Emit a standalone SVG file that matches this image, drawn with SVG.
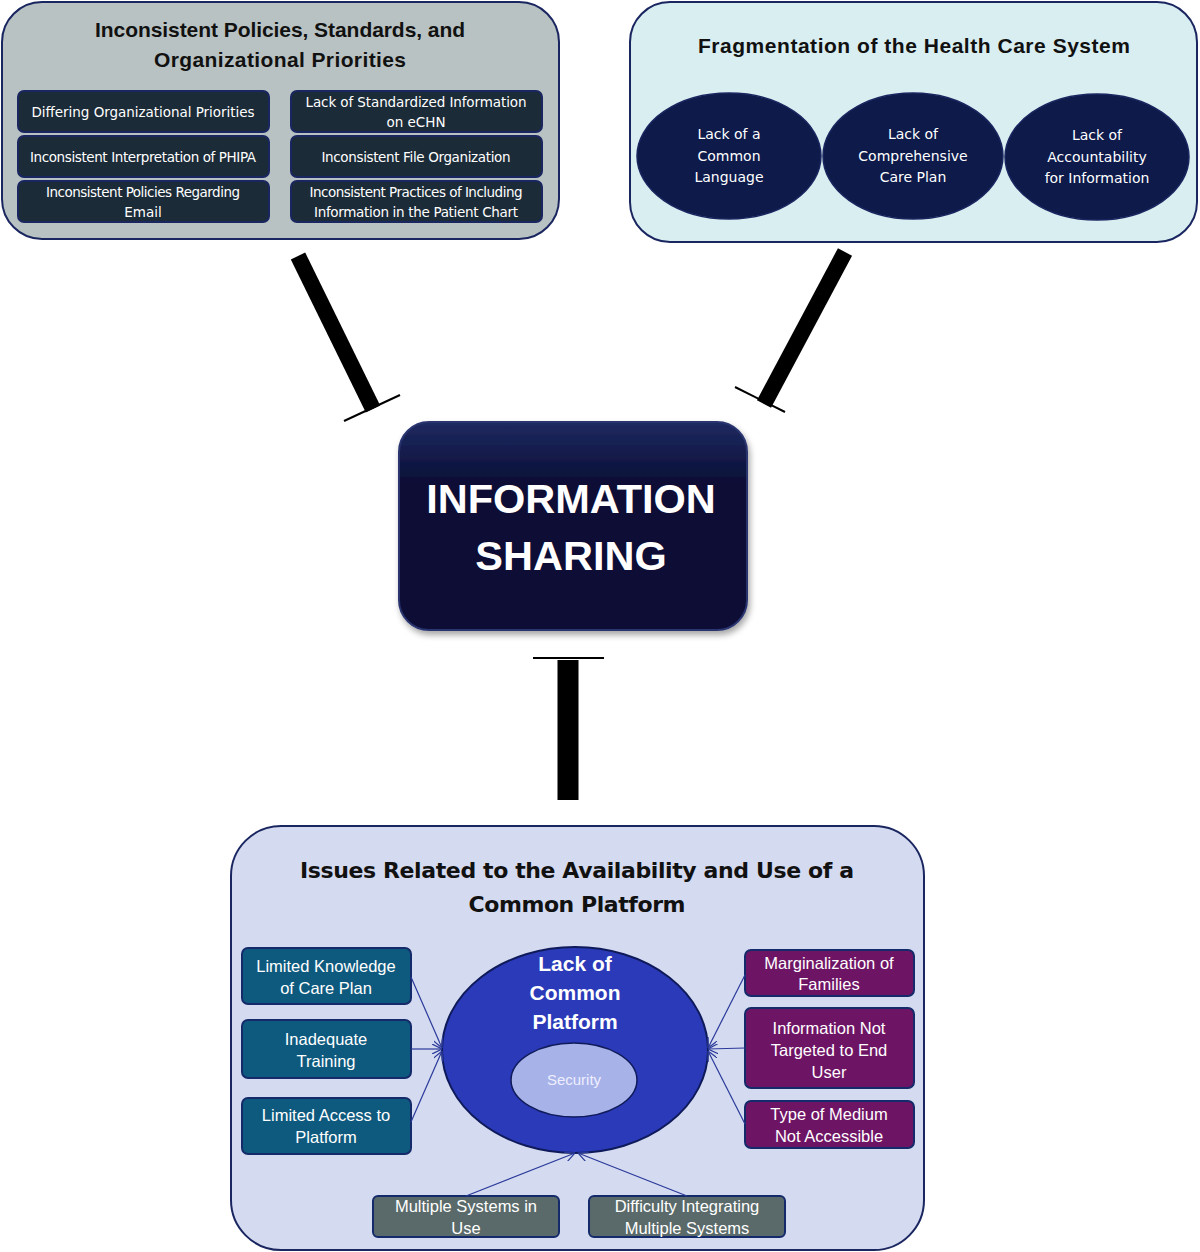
<svg xmlns="http://www.w3.org/2000/svg" width="1200" height="1252" viewBox="0 0 1200 1252">
<defs>
<style>
.t{font-family:"Liberation Sans",Arial,sans-serif;text-anchor:middle}
.d{font-family:"DejaVu Sans","Liberation Sans",sans-serif;text-anchor:middle}
.h{font-weight:bold;fill:#111;font-size:21px}
.w{fill:#fff;font-size:13.5px}
.e{fill:#fff;font-size:14px}
.w2{fill:#fff;font-size:16.5px}
.ib{fill:#1c2b38;stroke:#1a2660;stroke-width:2}
.el{fill:#0d1a4a;stroke:#1a2660;stroke-width:1.5}
.tb{fill:#0e5a7e;stroke:#152a6a;stroke-width:2}
.pb{fill:#6e1465;stroke:#152a6a;stroke-width:2}
.gb{fill:#5a6a6a;stroke:#152a6a;stroke-width:2}
.ln{stroke:#2a3a9a;stroke-width:1.2;fill:none}
.bar{stroke:#000;fill:none}
</style>
<marker id="ah" viewBox="0 0 10 10" refX="10" refY="5" markerWidth="10" markerHeight="10" orient="auto" markerUnits="userSpaceOnUse">
<path d="M0,0 L10,5 L0,10" fill="none" stroke="#2a3a9a" stroke-width="1.2"/>
</marker>
<linearGradient id="cg" x1="0" y1="0" x2="0" y2="1">
<stop offset="0" stop-color="#1e2a60"/>
<stop offset="0.3" stop-color="#0a0e35"/>
<stop offset="1" stop-color="#0a0e35"/>
</linearGradient>
<filter id="sh" x="-10%" y="-10%" width="130%" height="130%">
<feDropShadow dx="2" dy="4" stdDeviation="3" flood-color="#000" flood-opacity="0.35"/>
</filter>
</defs>
<rect width="1200" height="1252" fill="#fff"/>

<g id="policies">
<rect x="2" y="2" width="557" height="237" rx="40" fill="#b9c2c2" stroke="#1a2660" stroke-width="2"/>
<text class="t h" x="280" y="37" textLength="370">Inconsistent Policies, Standards, and</text>
<text class="t h" x="280" y="67" textLength="252">Organizational Priorities</text>
<rect class="ib" x="18" y="91" width="251" height="41" rx="6"/>
<text class="d w" x="143" y="117" textLength="223">Differing Organizational Priorities</text>
<rect class="ib" x="291" y="91" width="251" height="41" rx="6"/>
<text class="d w" x="416" y="107" textLength="221">Lack of Standardized Information</text>
<text class="d w" x="416" y="127">on eCHN</text>
<rect class="ib" x="18" y="136" width="251" height="41" rx="6"/>
<text class="d w" x="143" y="162" textLength="226">Inconsistent Interpretation of PHIPA</text>
<rect class="ib" x="291" y="136" width="251" height="41" rx="6"/>
<text class="d w" x="416" y="162" textLength="189">Inconsistent File Organization</text>
<rect class="ib" x="18" y="181" width="251" height="41" rx="6"/>
<text class="d w" x="143" y="197" textLength="194">Inconsistent Policies Regarding</text>
<text class="d w" x="143" y="217">Email</text>
<rect class="ib" x="291" y="181" width="251" height="41" rx="6"/>
<text class="d w" x="416" y="197" textLength="213">Inconsistent Practices of Including</text>
<text class="d w" x="416" y="217" textLength="204">Information in the Patient Chart</text>
</g>

<g id="fragmentation">
<rect x="630" y="2" width="567" height="240" rx="40" fill="#d9eef0" stroke="#1a2660" stroke-width="2"/>
<text class="t h" x="914" y="53" font-size="22" textLength="432">Fragmentation of the Health Care System</text>
<ellipse class="el" cx="729" cy="156" rx="92" ry="63"/>
<ellipse class="el" cx="913" cy="156" rx="90" ry="63"/>
<ellipse class="el" cx="1097" cy="157" rx="92" ry="63"/>
<text class="d e" x="729" y="139">Lack of a</text>
<text class="d e" x="729" y="161">Common</text>
<text class="d e" x="729" y="182">Language</text>
<text class="d e" x="913" y="139">Lack of</text>
<text class="d e" x="913" y="161">Comprehensive</text>
<text class="d e" x="913" y="182">Care Plan</text>
<text class="d e" x="1097" y="140">Lack of</text>
<text class="d e" x="1097" y="162">Accountability</text>
<text class="d e" x="1097" y="183">for Information</text>
</g>

<g id="info-sharing">
<rect x="399" y="422" width="348" height="208" rx="30" fill="url(#cg)" stroke="#2a3570" stroke-width="2" filter="url(#sh)"/>
<text class="t" x="571" y="513" font-family="'Open Sans',sans-serif" font-weight="bold" font-size="41.5" fill="#fff">INFORMATION</text>
<text class="t" x="571" y="570" font-family="'Open Sans',sans-serif" font-weight="bold" font-size="41.5" fill="#fff">SHARING</text>
</g>

<g id="platform">
<rect x="231" y="826" width="693" height="424" rx="50" fill="#d4daf0" stroke="#1a2660" stroke-width="2"/>
<text class="d" x="577" y="878" font-weight="bold" font-size="22" fill="#111" textLength="554">Issues Related to the Availability and Use of a</text>
<text class="d" x="577" y="912" font-weight="bold" font-size="22" fill="#111" textLength="217">Common Platform</text>
<ellipse cx="575" cy="1050" rx="133" ry="103" fill="#2a3ab8" stroke="#0f1a5a" stroke-width="2"/>
<text class="t" x="575" y="971" font-weight="bold" font-size="21" fill="#fff">Lack of</text>
<text class="t" x="575" y="1000" font-weight="bold" font-size="21" fill="#fff">Common</text>
<text class="t" x="575" y="1029" font-weight="bold" font-size="21" fill="#fff">Platform</text>
<ellipse cx="574" cy="1080" rx="63" ry="37" fill="#a6b2e8" stroke="#0f1a5a" stroke-width="1.5"/>
<text class="t" x="574" y="1085" font-size="15" fill="#eef">Security</text>

<rect class="tb" x="242" y="948" width="169" height="56" rx="6"/>
<text class="t w2" x="326" y="972">Limited Knowledge</text>
<text class="t w2" x="326" y="994">of Care Plan</text>
<rect class="tb" x="242" y="1020" width="169" height="58" rx="6"/>
<text class="t w2" x="326" y="1045">Inadequate</text>
<text class="t w2" x="326" y="1067">Training</text>
<rect class="tb" x="242" y="1098" width="169" height="56" rx="6"/>
<text class="t w2" x="326" y="1121">Limited Access to</text>
<text class="t w2" x="326" y="1143">Platform</text>

<rect class="pb" x="745" y="950" width="169" height="46" rx="6"/>
<text class="t w2" x="829" y="969">Marginalization of</text>
<text class="t w2" x="829" y="990">Families</text>
<rect class="pb" x="745" y="1008" width="169" height="80" rx="6"/>
<text class="t w2" x="829" y="1034">Information Not</text>
<text class="t w2" x="829" y="1056">Targeted to End</text>
<text class="t w2" x="829" y="1078">User</text>
<rect class="pb" x="745" y="1101" width="169" height="47" rx="6"/>
<text class="t w2" x="829" y="1120">Type of Medium</text>
<text class="t w2" x="829" y="1142">Not Accessible</text>

<rect class="gb" x="373" y="1196" width="186" height="41" rx="5"/>
<text class="t w2" x="466" y="1212">Multiple Systems in</text>
<text class="t w2" x="466" y="1234">Use</text>
<rect class="gb" x="589" y="1196" width="196" height="41" rx="5"/>
<text class="t w2" x="687" y="1212">Difficulty Integrating</text>
<text class="t w2" x="687" y="1234">Multiple Systems</text>
</g>

<g id="connectors">
<line class="bar" x1="298" y1="256" x2="373" y2="409" stroke-width="16"/>
<line class="bar" x1="344" y1="421" x2="400" y2="395" stroke-width="2"/>
<line class="bar" x1="845" y1="252" x2="764" y2="404" stroke-width="16"/>
<line class="bar" x1="735" y1="387" x2="785" y2="412" stroke-width="2"/>
<line class="bar" x1="568" y1="660" x2="568" y2="800" stroke-width="21"/>
<line class="bar" x1="533" y1="658" x2="604" y2="658" stroke-width="2"/>

<line class="ln" x1="411" y1="977" x2="442" y2="1048" marker-end="url(#ah)"/>
<line class="ln" x1="411" y1="1049" x2="442" y2="1049" marker-end="url(#ah)"/>
<line class="ln" x1="411" y1="1122" x2="442" y2="1051" marker-end="url(#ah)"/>
<line class="ln" x1="745" y1="975" x2="708" y2="1048" marker-end="url(#ah)"/>
<line class="ln" x1="745" y1="1048" x2="708" y2="1049" marker-end="url(#ah)"/>
<line class="ln" x1="745" y1="1124" x2="708" y2="1051" marker-end="url(#ah)"/>
<line class="ln" x1="466" y1="1196" x2="575" y2="1153" marker-end="url(#ah)"/>
<line class="ln" x1="687" y1="1196" x2="578" y2="1153" marker-end="url(#ah)"/>
</g>
</svg>
